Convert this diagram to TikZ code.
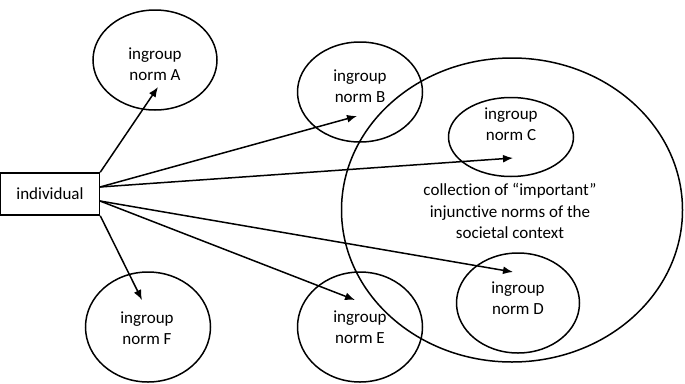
\documentclass[tikz,border=0pt]{standalone}
\usepackage{fontspec}
\setmainfont{Carlito}[Ligatures=NoCommon]
\usetikzlibrary{shapes.geometric,arrows.meta}
\begin{document}
\begin{tikzpicture}[x=1pt,y=-1pt,
  ell/.style={draw,ellipse,line width=1.5pt,inner sep=0pt},
  lbl/.style={align=center,font=\fontsize{17}{21.5}\selectfont,inner sep=0pt},
  arr/.style={line width=1.5pt,-{Latex[length=10pt,width=8pt]}}]
\useasboundingbox (0,0) rectangle (685,383);
\node[ell,minimum width=341pt,minimum height=304pt] (S) at (512,210) {};
\node[ell,minimum width=124pt,minimum height=100pt] (A) at (155,60) {};
\node[ell,minimum width=125pt,minimum height=100pt] (B) at (360,92) {};
\node[ell,minimum width=125pt,minimum height=79pt] (C) at (511,137) {};
\node[ell,minimum width=123pt,minimum height=100pt] (D) at (518,303) {};
\node[ell,minimum width=125pt,minimum height=110pt] (E) at (360,327) {};
\node[ell,minimum width=125pt,minimum height=110pt] (F) at (148,327) {};
\node[draw,line width=1.5pt,minimum width=99pt,minimum height=42pt,inner sep=0pt] (I) at (50,194) {};
\node[lbl] (It) at (50,194) {individual};
\node[lbl] (At) at (155,64) {ingroup\\norm A};
\node[lbl] (Bt) at (360,86) {ingroup\\norm B};
\node[lbl] (Ct) at (511,124) {ingroup\\norm C};
\node[lbl] (Dt) at (518,298) {ingroup\\norm D};
\node[lbl] (Et) at (360,327) {ingroup\\norm E};
\node[lbl] (Ft) at (147,328) {ingroup\\norm F};
\node[lbl] (St) at (510,211) {collection of “important”\\injunctive norms of the\\societal context};
\coordinate (o1) at (I.north east);
\coordinate (o2) at (100,187);
\coordinate (o3) at (100,201);
\coordinate (o4) at (I.south east);
\coordinate (tA) at (158,87);
\coordinate (tB) at (357,116);
\coordinate (tC) at (513,158);
\coordinate (tD) at (513,272);
\coordinate (tE) at (355,300);
\coordinate (tF) at (142,300);
\draw[arr] (o1) -- (tA);
\draw[arr] (o2) -- (tB);
\draw[arr] (o2) -- (tC);
\draw[arr] (o3) -- (tD);
\draw[arr] (o3) -- (tE);
\draw[arr] (o4) -- (tF);
\end{tikzpicture}
\end{document}
